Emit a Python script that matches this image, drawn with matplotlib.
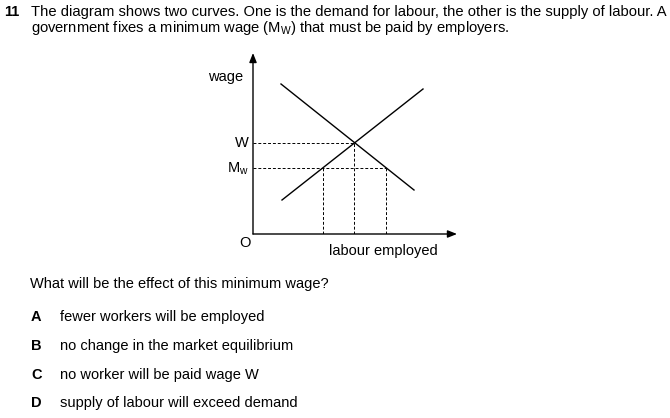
import matplotlib
matplotlib.use("Agg")
import matplotlib.pyplot as plt

plt.rcParams['font.family'] = ['Liberation Sans', 'DejaVu Sans']
plt.rcParams['mathtext.fontset'] = 'custom'
plt.rcParams['mathtext.rm'] = 'Liberation Sans'
plt.rcParams['mathtext.it'] = 'Liberation Sans:italic'
plt.rcParams['mathtext.bf'] = 'Liberation Sans:bold'

# ---- data (diagram units) ----
demand_x = [2.8, 16.1]
demand_y = [15.0, 4.4]
supply_x = [2.9, 17.0]
supply_y = [3.4, 14.5]
wage_eq = 9.1          # W
wage_min = 6.6         # Mw
qty_eq = 10.1
qty_supplied_min = 7.0
qty_demanded_min = 13.3

question_num = "11"
question_lines = [
    "The diagram shows two curves. One is the demand for labour, the other is the supply of labour. A",
    r"government fixes a minimum wage (M$_\mathrm{W}$) that must be paid by employers.",
]
prompt = "What will be the effect of this minimum wage?"
option_letters = ["A", "B", "C", "D"]
option_texts = [
    "fewer workers will be employed",
    "no change in the market equilibrium",
    "no worker will be paid wage W",
    "supply of labour will exceed demand",
]

W, H = 670, 418
fig = plt.figure(figsize=(W / 100, H / 100), dpi=100)
fig.patch.set_facecolor('white')

def fx(x):
    return x / W

def fy(y):
    return 1 - y / H

# question text
fs_title = 10.6
fig.text(fx(4), fy(12), question_num, fontsize=10.5, fontweight='bold', va='center', ha='left')
fig.text(fx(31), fy(12), question_lines[0], fontsize=fs_title, va='center', ha='left')
fig.text(fx(31), fy(28), question_lines[1], fontsize=fs_title, va='center', ha='left')

fs_opt = 10.5
fig.text(fx(30), fy(284), prompt, fontsize=fs_opt, va='center', ha='left')
opt_y = [317, 346, 375, 403]
for letter, txt, y in zip(option_letters, option_texts, opt_y):
    fig.text(fx(31), fy(y), letter, fontsize=fs_opt, fontweight='bold', va='center', ha='left')
    fig.text(fx(60), fy(y), txt, fontsize=fs_opt, va='center', ha='left')

# diagram axes: origin at pixel (253, 234)
x0p, y0p = 253, 234
xmax, ymax = 20.7, 18.4
ax = fig.add_axes([fx(x0p), 1 - y0p / H, (xmax * 10) / W, (ymax * 10) / H])
ax.set_xlim(0, xmax)
ax.set_ylim(0, ymax)
ax.axis('off')

# axes arrows
arrow_kw = dict(arrowstyle='-|>,head_length=0.55,head_width=0.22', color='black', lw=1.0,
                shrinkA=0, shrinkB=0)
ax.annotate('', xy=(0, 18.1), xytext=(0, 0), arrowprops=arrow_kw, annotation_clip=False)
ax.annotate('', xy=(20.4, 0), xytext=(0, 0), arrowprops=arrow_kw, annotation_clip=False)

# curves
ax.plot(demand_x, demand_y, color='black', lw=1.0, clip_on=False)
ax.plot(supply_x, supply_y, color='black', lw=1.0, clip_on=False)

dash = dict(color='black', lw=0.7, ls=(0, (3, 2)))
ax.plot([0, qty_eq], [wage_eq, wage_eq], **dash)
ax.plot([0, qty_demanded_min], [wage_min, wage_min], **dash)
ax.plot([qty_eq, qty_eq], [0, wage_eq], **dash)
ax.plot([qty_supplied_min, qty_supplied_min], [0, wage_min], **dash)
ax.plot([qty_demanded_min, qty_demanded_min], [0, wage_min], **dash)

# labels
fs_lab = 10.5
ax.text(-1.0, 15.7, 'wage', fontsize=fs_lab, ha='right', va='center')
ax.text(-0.4, wage_eq, 'W', fontsize=fs_lab, ha='right', va='center')
ax.text(-0.4, wage_min - 0.1, r'M$_\mathrm{w}$', fontsize=fs_lab, ha='right', va='center')
ax.text(-0.8, -0.9, 'O', fontsize=fs_lab, ha='center', va='center')
ax.text(18.5, -1.65, 'labour employed', fontsize=fs_lab, ha='right', va='center')

fig.savefig('out.png', dpi=100, facecolor='white')
